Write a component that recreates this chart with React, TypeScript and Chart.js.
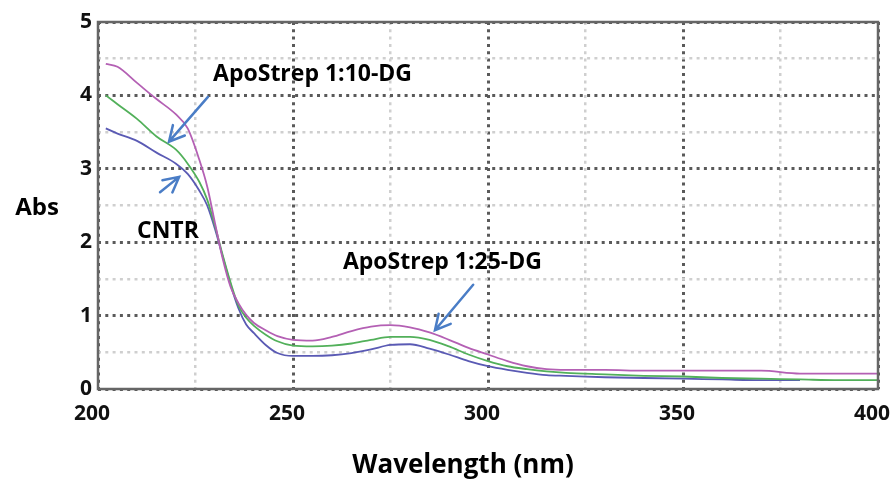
import React, { useEffect, useRef } from "react";
import { Chart, registerables } from "chart.js";

Chart.register(...registerables);

const wavelengths = [202, 205, 210, 215, 220, 223, 226, 228, 230, 232, 234, 236, 238, 240, 243, 246, 250, 255, 260, 265, 270, 275, 280, 285, 290, 295, 300, 305, 310, 315, 320, 330, 340, 350, 360, 370, 380, 390, 400];

const apo110 = [4.43, 4.39, 4.17, 3.95, 3.74, 3.55, 3.12, 2.76, 2.26, 1.77, 1.39, 1.17, 1.01, 0.9, 0.8, 0.72, 0.67, 0.66, 0.71, 0.79, 0.85, 0.87, 0.84, 0.77, 0.67, 0.56, 0.47, 0.38, 0.31, 0.27, 0.26, 0.26, 0.25, 0.25, 0.25, 0.25, 0.21, 0.21, 0.21];

const apo125 = [4.0, 3.88, 3.68, 3.44, 3.26, 3.07, 2.82, 2.58, 2.22, 1.82, 1.45, 1.14, 0.97, 0.86, 0.74, 0.65, 0.59, 0.58, 0.59, 0.62, 0.67, 0.71, 0.71, 0.67, 0.58, 0.47, 0.38, 0.31, 0.27, 0.24, 0.22, 0.2, 0.18, 0.17, 0.15, 0.14, 0.13, 0.12, 0.12];

const cntr = [3.55, 3.48, 3.38, 3.22, 3.07, 2.93, 2.7, 2.5, 2.18, 1.8, 1.42, 1.1, 0.88, 0.76, 0.6, 0.49, 0.45, 0.45, 0.46, 0.49, 0.54, 0.6, 0.61, 0.55, 0.47, 0.38, 0.31, 0.26, 0.22, 0.19, 0.18, 0.16, 0.15, 0.14, 0.13, 0.12, 0.12, null, null];

const seriesNames = ["ApoStrep 1:10-DG", "ApoStrep 1:25-DG", "CNTR"];
const seriesColors = ["#b460b4", "#52b05a", "#5a5ab4"];

const xTicks = [200, 250, 300, 350, 400];
const yTicks = [0, 1, 2, 3, 4, 5];

// annotation text anchors (data units) and arrows (from -> to, data units)
const annotationLabels = ["ApoStrep 1:10-DG", "CNTR", "ApoStrep 1:25-DG"];
const labelAnchors = [
  { x: 229.5, y: 4.28 },
  { x: 210, y: 2.15 },
  { x: 262.8, y: 1.73 },
];
const arrowFrom = [
  { x: 228.2, y: 3.98 },
  { x: 215.9, y: 2.68 },
  { x: 296.2, y: 1.42 },
];
const arrowTo = [
  { x: 218.2, y: 3.37 },
  { x: 220.8, y: 2.89 },
  { x: 286.4, y: 0.8 },
];

const FONT = "'Open Sans', 'Liberation Sans', sans-serif";
const W = 893;
const H = 495;

export default function App() {
  const ref = useRef<HTMLCanvasElement | null>(null);

  useEffect(() => {
    document.body.style.margin = "0";
    document.body.style.overflow = "hidden";
    const canvas = ref.current;
    if (!canvas) return;

    const makeData = (vals: (number | null)[]) =>
      wavelengths.map((w, i) => ({ x: w, y: vals[i] }));

    const series = [apo110, apo125, cntr];

    const overlay = {
      id: "overlay",
      afterDraw(chart: any) {
        const { ctx, chartArea, scales } = chart;
        const xs = scales.x;
        const ys = scales.y;
        ctx.save();
        // frame
        ctx.strokeStyle = "#666";
        ctx.lineWidth = 2.5;
        ctx.strokeRect(chartArea.left, chartArea.top, chartArea.right - chartArea.left, chartArea.bottom - chartArea.top);

        // arrows
        ctx.strokeStyle = "#4a7dc6";
        ctx.lineWidth = 2.5;
        ctx.lineCap = "round";
        for (let i = 0; i < arrowFrom.length; i++) {
          const x1 = xs.getPixelForValue(arrowFrom[i].x);
          const y1 = ys.getPixelForValue(arrowFrom[i].y);
          const x2 = xs.getPixelForValue(arrowTo[i].x);
          const y2 = ys.getPixelForValue(arrowTo[i].y);
          ctx.beginPath();
          ctx.moveTo(x1, y1);
          ctx.lineTo(x2, y2);
          const ang = Math.atan2(y2 - y1, x2 - x1);
          const hl = 17;
          const spread = Math.PI / 6.5;
          ctx.moveTo(x2 - hl * Math.cos(ang - spread), y2 - hl * Math.sin(ang - spread));
          ctx.lineTo(x2, y2);
          ctx.lineTo(x2 - hl * Math.cos(ang + spread), y2 - hl * Math.sin(ang + spread));
          ctx.stroke();
        }

        // annotation labels
        ctx.fillStyle = "#000";
        ctx.font = `bold 23px ${FONT}`;
        ctx.textAlign = "left";
        ctx.textBaseline = "middle";
        for (let i = 0; i < annotationLabels.length; i++) {
          ctx.fillText(annotationLabels[i], xs.getPixelForValue(labelAnchors[i].x), ys.getPixelForValue(labelAnchors[i].y));
        }

        // axis titles
        ctx.textAlign = "center";
        ctx.font = `bold 24px ${FONT}`;
        ctx.fillText("Abs", 37, 208);
        ctx.font = `bold 26px ${FONT}`;
        ctx.fillText("Wavelength (nm)", 463, 466);
        ctx.restore();
      },
    };

    const chart = new Chart(canvas, {
      type: "line",
      data: {
        datasets: series.map((vals, i) => ({
          label: seriesNames[i],
          data: makeData(vals),
          borderColor: seriesColors[i],
          backgroundColor: seriesColors[i],
          borderWidth: 1.8,
          pointRadius: 0,
          cubicInterpolationMode: "monotone",
          spanGaps: false,
        })),
      },
      options: {
        responsive: false,
        maintainAspectRatio: false,
        animation: false,
        layout: { autoPadding: false, padding: { left: 0, right: 0, top: 22, bottom: 0 } },
        plugins: { legend: { display: false }, tooltip: { enabled: false } },
        scales: {
          x: {
            type: "linear",
            min: xTicks[0],
            max: xTicks[xTicks.length - 1],
            afterFit(scale: any) {
              scale.height = 106;
              scale.paddingLeft = 0;
              scale.paddingRight = 0;
            },
            ticks: {
              stepSize: 25,
              autoSkip: false,
              maxRotation: 0,
              padding: 12,
              labelOffset: -6,
              color: "#111",
              font: { family: FONT, size: 21, weight: "bold" },
              callback: (v: any) => (xTicks.includes(Number(v)) ? String(v) : ""),
            },
            grid: {
              drawTicks: false,
              color: (c: any) => (c.tick && c.tick.value % 50 === 0 ? "#5a5a5a" : "#cfcfcf"),
              lineWidth: (c: any) => (c.tick && c.tick.value % 50 === 0 ? 3 : 2.5),
            },
            border: { display: false, dash: [3, 4.3] },
          },
          y: {
            type: "linear",
            min: yTicks[0],
            max: yTicks[yTicks.length - 1],
            afterFit(scale: any) {
              scale.width = 98;
              scale.paddingTop = 0;
              scale.paddingBottom = 0;
            },
            ticks: {
              stepSize: 0.5,
              autoSkip: false,
              padding: 6,
              color: "#111",
              font: { family: FONT, size: 21, weight: "bold" },
              callback: (v: any) => (yTicks.includes(Number(v)) ? String(v) : ""),
            },
            grid: {
              drawTicks: false,
              color: (c: any) => (c.tick && c.tick.value % 1 === 0 ? "#5a5a5a" : "#cfcfcf"),
              lineWidth: (c: any) => (c.tick && c.tick.value % 1 === 0 ? 3 : 2.5),
            },
            border: { display: false, dash: [3, 4.3] },
          },
          spacer: {
            type: "linear",
            position: "right",
            display: true,
            min: 0,
            max: 1,
            afterFit(scale: any) {
              scale.width = 15;
              scale.paddingTop = 0;
              scale.paddingBottom = 0;
            },
            ticks: { display: false },
            grid: { display: false, drawTicks: false },
            border: { display: false },
          },
        },
      },
      plugins: [overlay],
    } as any);

    return () => chart.destroy();
  }, []);

  return (
    <div style={{ width: W, height: H, position: "relative", background: "#fff" }}>
      <canvas ref={ref} width={W} height={H} style={{ display: "block", width: W, height: H }} />
    </div>
  );
}
